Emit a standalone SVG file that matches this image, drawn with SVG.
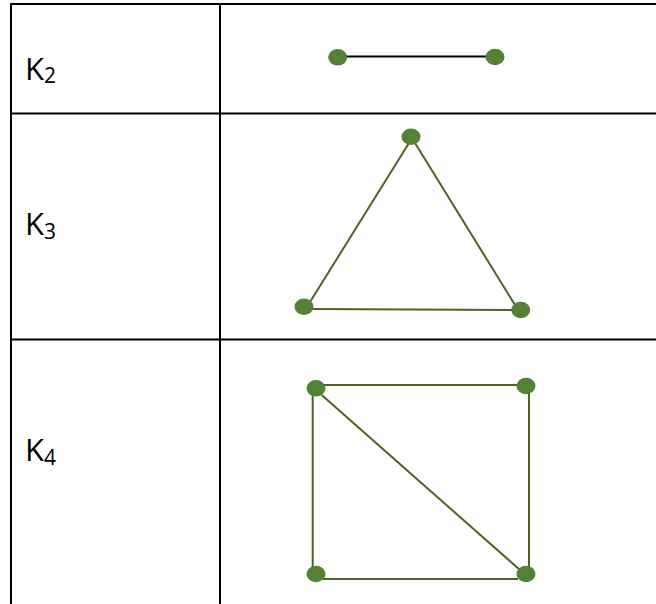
<svg xmlns="http://www.w3.org/2000/svg" width="656" height="604" viewBox="0 0 656 604">
<style>
.grid{stroke:#000;stroke-width:2;fill:none}
.lbl{font-family:"Open Sans","Liberation Sans",sans-serif;font-size:31px;fill:#000}
.sub{font-size:21px}
.node{fill:#538135}
.edge{stroke:#4f6228;stroke-width:2;fill:none}
.edgek{stroke:#000;stroke-width:2;fill:none}
</style>
<rect width="656" height="604" fill="#fff"/>
<g id="table" class="grid">
<line x1="10" y1="4" x2="656" y2="4"/>
<line x1="11" y1="3" x2="11" y2="604"/>
<line x1="220" y1="3" x2="220" y2="604"/>
<line x1="10" y1="113.5" x2="656" y2="113.5"/>
<line x1="10" y1="339.5" x2="656" y2="339.5"/>
</g>
<g id="labels">
<text id="label-k2" class="lbl" x="25" y="80">K<tspan class="sub" dy="3">2</tspan></text>
<text id="label-k3" class="lbl" x="25" y="235">K<tspan class="sub" dy="4">3</tspan></text>
<text id="label-k4" class="lbl" x="25" y="461">K<tspan class="sub" dy="4">4</tspan></text>
</g>
<g id="connectors">
<line class="edgek" x1="346" y1="56.5" x2="487" y2="56.5"/>
<line class="edge" x1="409" y1="143" x2="310" y2="302"/>
<line class="edge" x1="415" y1="143" x2="515" y2="305"/>
<line class="edge" x1="312" y1="309" x2="512" y2="310"/>
<line class="edge" x1="323" y1="385" x2="517" y2="385"/>
<line class="edge" x1="312.7" y1="393" x2="312.7" y2="568"/>
<line class="edge" x1="529" y1="393" x2="529" y2="568"/>
<line class="edge" x1="323" y1="579" x2="518" y2="579"/>
<line class="edge" x1="321.7" y1="395" x2="520" y2="570"/>
</g>
<g id="k2-a"><ellipse class="node" cx="337.7" cy="57.3" rx="9.5" ry="8.3"/></g>
<g id="k2-b"><ellipse class="node" cx="495" cy="57" rx="9.5" ry="8.3"/></g>
<g id="k3-top"><ellipse class="node" cx="411" cy="136.7" rx="9.5" ry="8.2"/></g>
<g id="k3-left"><ellipse class="node" cx="304" cy="306.7" rx="9.5" ry="8.2"/></g>
<g id="k3-right"><ellipse class="node" cx="520.7" cy="310" rx="9.5" ry="8.2"/></g>
<g id="k4-tl"><ellipse class="node" cx="316" cy="388.3" rx="9.5" ry="8.3"/></g>
<g id="k4-tr"><ellipse class="node" cx="526" cy="386" rx="9.5" ry="8.3"/></g>
<g id="k4-bl"><ellipse class="node" cx="316" cy="574" rx="9.5" ry="8.3"/></g>
<g id="k4-br"><ellipse class="node" cx="526" cy="574" rx="9.5" ry="8.3"/></g>
</svg>
